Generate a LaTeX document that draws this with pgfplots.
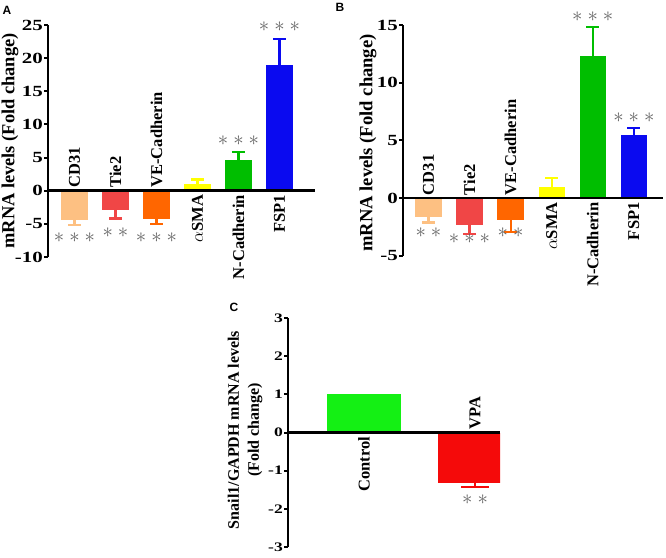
\documentclass[border=0pt]{standalone}
\usepackage{pgfplots}
\pgfplotsset{compat=1.18}
\usepackage{fontspec}
\usepackage{graphicx}
\setmainfont{Liberation Serif}
\newfontfamily\arial{Liberation Sans}
\definecolor{cA}{RGB}{253,192,130}
\definecolor{cB}{RGB}{240,70,70}
\definecolor{cC}{RGB}{255,102,0}
\definecolor{cD}{RGB}{255,255,0}
\definecolor{cE}{RGB}{0,190,0}
\definecolor{cF}{RGB}{10,10,240}
\definecolor{cG}{RGB}{20,240,20}
\definecolor{cH}{RGB}{245,10,10}
\definecolor{star}{RGB}{100,100,100}
\newcommand\tl[1]{\scalebox{1.35}[1]{#1}}
\newcommand\starsIII{{\ast}\kern5pt{\ast}\kern5pt{\ast}}
\newcommand\starsII{{\ast}\kern5pt{\ast}}
\newcommand\mybar[7]{\addplot[ybar, bar shift=0pt, bar width=#6, fill=#4, draw=none,
  error bars/.cd, y dir=#5, y explicit,
  error bar style={draw=#4, line width=2.2pt},
  error mark options={draw=#4, line width=2.2pt, mark size=#7, rotate=90}] coordinates {(#1,#2) +- (0,#3)};}
\newcommand\stars[3]{\node[star, font=\fontsize{21}{21}\selectfont] at (axis cs:#1,#2) {$#3$};}
\newcommand\lab[3]{\node[rotate=90, anchor=#3, font=\bfseries\fontsize{16.5}{16.5}\selectfont, inner sep=0pt] at (axis cs:#1,0) {#2};}
\pgfplotsset{panel/.style={scale only axis, axis y line=left, axis x line=middle,
  axis line style={-, line width=2.5pt}, xtick=\empty, tick align=outside,
  major tick length=4pt, ytick style={line width=2pt, black},
  yticklabel style={font=\bfseries\fontsize{15.5}{15.5}\selectfont, inner xsep=1pt},
  clip=false, axis on top, hide obscured y ticks=false}}
\begin{document}
\begin{tikzpicture}[x=1pt,y=1pt]
\useasboundingbox (0,0) rectangle (666,557);
% Panel A
\begin{axis}[panel, at={(48pt,300pt)}, anchor=south west, width=267pt, height=232pt,
  xmin=-0.646, xmax=5.866, ymin=-10, ymax=25, ytick={-10,-5,0,5,10,15,20,25},
  yticklabels={\tl{-10},\tl{-5},\tl{0},\tl{5},\tl{10},\tl{15},\tl{20},\tl{25}}]
\mybar{0}{-4.35}{0.85}{cA}{minus}{0.66}{6.5pt}
\mybar{1}{-2.9}{1.3}{cB}{minus}{0.66}{6.5pt}
\mybar{2}{-4.2}{0.8}{cC}{minus}{0.66}{6.5pt}
\mybar{3}{0.95}{0.75}{cD}{plus}{0.66}{6.5pt}
\mybar{4}{4.6}{1.3}{cE}{plus}{0.66}{6.5pt}
\mybar{5}{19}{3.9}{cF}{plus}{0.66}{6.5pt}
\begin{scope}[yshift=3pt]
\lab{0}{CD31}{west}\lab{1}{Tie2}{west}\lab{2}{VE-Cadherin}{west}
\end{scope}
\begin{scope}[yshift=-4pt]
\lab{3}{\textmd{$\alpha$}SMA}{east}\lab{4}{N-Cadherin}{east}\lab{5}{FSP1}{east}
\end{scope}
\stars{0}{-7.1}{\starsIII}
\stars{1}{-6.3}{\starsII}
\stars{2}{-7.1}{\starsIII}
\stars{4}{7.5}{\starsIII}
\stars{5}{24.7}{\starsIII}
\end{axis}
% Panel B
\begin{axis}[panel, at={(403pt,301pt)}, anchor=south west, width=260pt, height=231pt,
  xmin=-0.62, xmax=5.71, ymin=-5, ymax=15, ytick={-5,0,5,10,15},
  yticklabels={\tl{-5},\tl{0},\tl{5},\tl{10},\tl{15}}]
\mybar{0}{-1.6}{0.5}{cA}{minus}{0.64}{6.5pt}
\mybar{1}{-2.3}{0.8}{cB}{minus}{0.64}{6.5pt}
\mybar{2}{-1.9}{1.0}{cC}{minus}{0.64}{6.5pt}
\mybar{3}{1.0}{0.75}{cD}{plus}{0.64}{6.5pt}
\mybar{4}{12.3}{2.5}{cE}{plus}{0.64}{6.5pt}
\mybar{5}{5.45}{0.65}{cF}{plus}{0.64}{6.5pt}
\begin{scope}[yshift=3pt]
\lab{0}{CD31}{west}\lab{1}{Tie2}{west}\lab{2}{VE-Cadherin}{west}
\end{scope}
\begin{scope}[yshift=-4pt]
\lab{3}{\textmd{$\alpha$}SMA}{east}\lab{4}{N-Cadherin}{east}\lab{5}{FSP1}{east}
\end{scope}
\stars{0}{-3.0}{\starsII}
\stars{1}{-3.5}{\starsIII}
\stars{2}{-3.0}{\starsII}
\stars{4}{15.7}{\starsIII}
\stars{5}{7.0}{\starsIII}
\end{axis}
% Panel C
\begin{axis}[panel, clip=true, at={(288pt,10pt)}, anchor=south west, width=212pt, height=229pt,
  xmin=-0.685, xmax=1.225, ymin=-3, ymax=3, ytick={-3,-2,-1,0,1,2,3},
  yticklabels={\tl{-3},\tl{-2},\tl{-1},\tl{0},\tl{1},\tl{2},\tl{3}},
  yticklabel style={font=\bfseries\fontsize{13}{13}\selectfont}]
\mybar{0}{1.0}{0}{cG}{plus}{0.667}{0pt}
\mybar{1}{-1.33}{0.1}{cH}{minus}{0.667}{14pt}
\end{axis}
\begin{axis}[scale only axis, hide axis, at={(288pt,10pt)}, anchor=south west, width=212pt, height=229pt,
  xmin=-0.685, xmax=1.225, ymin=-3, ymax=3, clip=false]
\begin{scope}[yshift=-4pt]\lab{0}{Control}{east}\end{scope}
\begin{scope}[yshift=3pt]\lab{1}{VPA}{west}\end{scope}
\stars{1}{-1.75}{\starsII}
\end{axis}
% axis titles
\node[rotate=90, font=\bfseries\fontsize{18.4}{18.4}\selectfont] at (10,416) {mRNA levels (Fold change)};
\node[rotate=90, font=\bfseries\fontsize{18.6}{18.6}\selectfont] at (368,414) {mRNA levels (Fold change)};
\node[rotate=90, align=center, font=\bfseries\fontsize{16}{20}\selectfont] at (245,127) {Snail1/GAPDH mRNA levels\\(Fold change)};
% panel letters
\node[font=\arial\bfseries\fontsize{12}{12}\selectfont] at (7,547) {A};
\node[font=\arial\bfseries\fontsize{12}{12}\selectfont] at (340,550) {B};
\node[font=\arial\bfseries\fontsize{12}{12}\selectfont] at (234,250) {C};
\end{tikzpicture}
\end{document}
